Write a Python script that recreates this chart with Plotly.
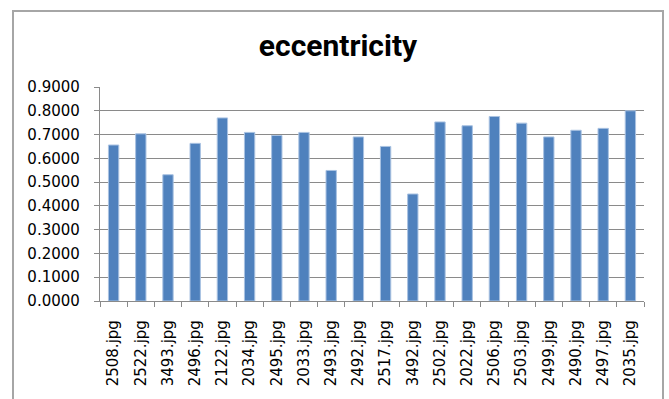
import plotly.graph_objects as go

# Image files and their measured eccentricity
images = ["2508.jpg", "2522.jpg", "3493.jpg", "2496.jpg", "2122.jpg",
          "2034.jpg", "2495.jpg", "2033.jpg", "2493.jpg", "2492.jpg",
          "2517.jpg", "3492.jpg", "2502.jpg", "2022.jpg", "2506.jpg",
          "2503.jpg", "2499.jpg", "2490.jpg", "2497.jpg", "2035.jpg"]
eccentricity = [0.656, 0.703, 0.531, 0.663, 0.770,
                0.709, 0.696, 0.709, 0.549, 0.690,
                0.650, 0.450, 0.753, 0.737, 0.776,
                0.748, 0.690, 0.718, 0.726, 0.800]
y_ticks = [0.0, 0.1, 0.2, 0.3, 0.4, 0.5, 0.6, 0.7, 0.8, 0.9]

W, H = 669, 399
L, R, T, B = 100, 25, 87, 98
pw, ph = W - L - R, H - T - B

def px_x(x):
    return (x - L) / pw

def px_y(y):
    return (H - B - y) / ph

GRID = "#8A8A8A"
TICK_FONT = dict(family="DejaVu Sans", size=15, color="#000000")

fig = go.Figure(
    go.Bar(
        x=images,
        y=eccentricity,
        width=0.38,
        marker=dict(color="#4F81BD", line=dict(color="#A9C2E2", width=1)),
        hoverinfo="x+y",
    )
)

fig.update_layout(
    width=W,
    height=H,
    margin=dict(l=L, r=R, t=T, b=B, pad=0),
    paper_bgcolor="white",
    plot_bgcolor="white",
    showlegend=False,
    title=dict(
        text="<b>eccentricity</b>",
        font=dict(family="Roboto", size=30, color="#000000"),
        xref="container", x=338 / W, xanchor="center",
        yref="container", y=1 - 45 / H, yanchor="middle",
    ),
    xaxis=dict(
        type="category",
        tickangle=-90,
        tickfont=TICK_FONT,
        showline=True, linecolor=GRID, linewidth=1.3,
        ticks="outside", tickson="boundaries", ticklen=5, tickcolor=GRID, tickwidth=1,
        ticklabelstandoff=12,
        showgrid=False,
        range=[-0.5, len(images) - 0.5],
    ),
    yaxis=dict(
        range=[0, 0.9],
        tickvals=y_ticks,
        tickformat=".4f",
        tickfont=TICK_FONT,
        showline=True, linecolor=GRID, linewidth=1.3,
        ticks="outside", ticklen=5, tickcolor=GRID, tickwidth=1,
        ticklabelstandoff=11,
        showgrid=True, gridcolor=GRID, gridwidth=1.3,
        zeroline=False,
    ),
    shapes=[
        # chart frame
        dict(type="rect", xref="paper", yref="paper",
             x0=px_x(13), x1=px_x(663), y0=px_y(420), y1=px_y(11),
             line=dict(color="#A6A6A6", width=2), fillcolor="rgba(0,0,0,0)",
             layer="below"),
    ],
)

fig.write_html("out.html")
